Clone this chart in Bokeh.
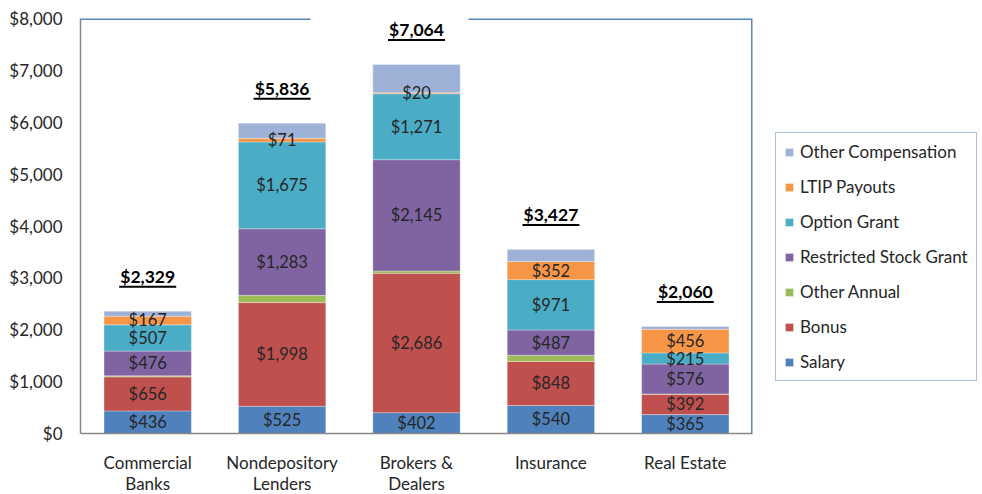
from bokeh.plotting import figure
from bokeh.models import (ColumnDataSource, Legend, LegendItem, NumeralTickFormatter,
                          FactorRange, Range1d, FixedTicker, CategoricalAxis)
from bokeh.core.properties import value
from bokeh.embed import file_html
from bokeh.resources import INLINE

# ---------------- data ----------------
categories = ["Commercial Banks", "Nondepository Lenders", "Brokers & Dealers", "Insurance", "Real Estate"]
category_line1 = ["Commercial", "Nondepository", "Brokers &", "Insurance", "Real Estate"]
category_line2 = ["Banks", "Lenders", "Dealers", "", ""]

series = ["Salary", "Bonus", "Other Annual", "Restricted Stock Grant",
          "Option Grant", "LTIP Payouts", "Other Compensation"]

salary = [436, 525, 402, 540, 365]
bonus = [656, 1998, 2686, 848, 392]
other_annual = [20, 140, 45, 120, 5]
restricted_stock = [476, 1283, 2145, 487, 576]
option_grant = [507, 1675, 1271, 971, 215]
ltip_payouts = [167, 71, 20, 352, 456]
other_comp = [95, 290, 545, 230, 55]

totals = [2329, 5836, 7064, 3427, 2060]
y_ticks = [0, 1000, 2000, 3000, 4000, 5000, 6000, 7000, 8000]

labeled_series = ["Salary", "Bonus", "Restricted Stock Grant", "Option Grant", "LTIP Payouts"]

colors = ["#4F81BD", "#C0504D", "#9BBB59", "#8064A2", "#4BACC6", "#F79646", "#9EB2D8"]

values = {
    "Salary": salary,
    "Bonus": bonus,
    "Other Annual": other_annual,
    "Restricted Stock Grant": restricted_stock,
    "Option Grant": option_grant,
    "LTIP Payouts": ltip_payouts,
    "Other Compensation": other_comp,
}

FONT = "Lato"
TEXT_COLOR = "#262626"
FRAME_W, FRAME_H = 672, 415
n = len(categories)

# ---------------- figure ----------------
p = figure(x_range=FactorRange(*categories), y_range=Range1d(y_ticks[0], y_ticks[-1]),
           frame_width=FRAME_W, frame_height=FRAME_H, x_axis_location=None,
           min_border_left=80, min_border_right=230, min_border_top=18, min_border_bottom=0,
           output_backend="svg", toolbar_location=None)
p.background_fill_color = "white"
p.border_fill_color = "white"
p.outline_line_color = None
p.grid.visible = False

src = ColumnDataSource(dict(cat=categories, **values))
renderers = p.vbar_stack(series, x="cat", width=0.65, color=colors, source=src,
                         line_color="white", line_width=0.6, line_alpha=0.5)

# segment labels
lx, ly, lt = [], [], []
for i, c in enumerate(categories):
    base = 0
    for s in series:
        v = values[s][i]
        if s in labeled_series:
            lx.append(c)
            ly.append(base + v / 2)
            lt.append("${:,}".format(v))
        base += v
p.text(x="x", y="y", text="t", source=ColumnDataSource(dict(x=lx, y=ly, t=lt)),
       text_align="center", text_baseline="middle", text_font=value(FONT),
       text_font_size="16.5px", text_color=TEXT_COLOR)

# totals above bars (bold + underline)
px_per_unit = FRAME_H / (y_ticks[-1] - y_ticks[0])
unit_px = FRAME_W / n
tops = [sum(values[s][i] for s in series) for i in range(n)]
ty = [t + 35 / px_per_unit for t in tops]
p.text(x=categories, y=ty, text=["${:,}".format(t) for t in totals],
       text_align="center", text_baseline="middle", text_font=value(FONT),
       text_font_size="17.5px", text_font_style="bold", text_color="black")
half_w = 28.5 / unit_px
ux = [i + 0.5 for i in range(n)]
uy = [y - 10.5 / px_per_unit for y in ty]
p.segment(x0=[x - half_w for x in ux], x1=[x + half_w for x in ux], y0=uy, y1=uy,
          line_color="black", line_width=2)

# frame border (top with a gap, right)
ymax = y_ticks[-1]
p.segment(x0=[0, 2.887, n], x1=[1.711, n, n], y0=[ymax, ymax, 0], y1=[ymax, ymax, ymax],
          line_color="#5B84C0", line_width=3)

# axes
def style_axis(ax):
    ax.axis_line_color = "#868686"
    ax.axis_line_width = 1.5
    ax.major_tick_line_color = None
    ax.minor_tick_line_color = None
    ax.major_tick_out = 0
    ax.major_tick_in = 0
    ax.minor_tick_out = 0
    ax.minor_tick_in = 0
    ax.major_label_text_font = FONT
    ax.major_label_text_font_size = "17px"
    ax.major_label_text_color = TEXT_COLOR

# two-line category labels: one categorical axis per line
line2_factors = [t if t else " " * (k + 1) for k, t in enumerate(category_line2)]
p.extra_x_ranges = {"line1": FactorRange(*category_line1), "line2": FactorRange(*line2_factors)}

ax1 = CategoricalAxis(x_range_name="line1")
style_axis(ax1)
ax1.major_label_standoff = 18
p.add_layout(ax1, "below")

ax2 = CategoricalAxis(x_range_name="line2")
style_axis(ax2)
ax2.axis_line_color = None
ax2.major_label_standoff = -3
p.add_layout(ax2, "below")

style_axis(p.yaxis[0])
p.yaxis.ticker = FixedTicker(ticks=y_ticks)
p.yaxis.formatter = NumeralTickFormatter(format="$0,0")
p.yaxis.major_label_standoff = 18

# legend
items = [LegendItem(label=s, renderers=[r]) for s, r in zip(series, renderers)][::-1]
legend = Legend(items=items, location=(23, 52), margin=0,
                border_line_color="#5B84C0", border_line_width=1.5,
                label_text_font=FONT, label_text_font_size="17px", label_text_color=TEXT_COLOR,
                glyph_width=10, glyph_height=10, label_standoff=6, padding=8,
                spacing=14, label_height=21, background_fill_color="white")
p.add_layout(legend, "right")

open("out.html", "w").write(file_html(p, INLINE))
